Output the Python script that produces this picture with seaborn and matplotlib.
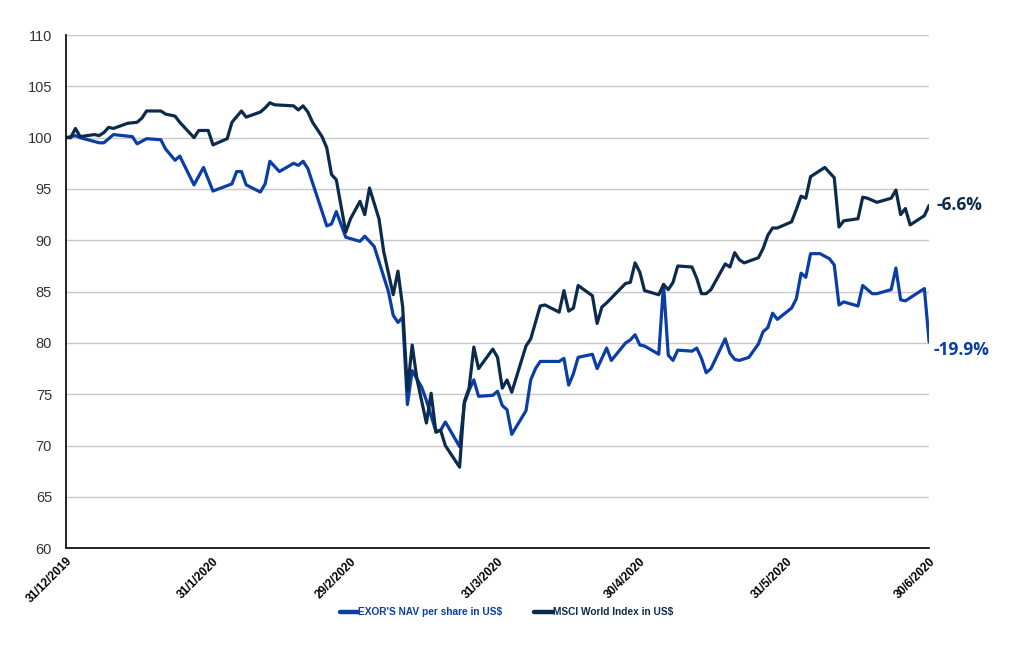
import pandas as pd
import matplotlib
matplotlib.use("Agg")
import matplotlib.pyplot as plt
import seaborn as sns

sns.set_theme(style="white")
plt.rcParams['font.family'] = ['Liberation Sans', 'DejaVu Sans']

# MSCI World Index in US$ (rebased to 100)
msci_dates = [
    "2019-12-31", "2020-01-01", "2020-01-02", "2020-01-03", "2020-01-06", "2020-01-07",
    "2020-01-08", "2020-01-09", "2020-01-10", "2020-01-13", "2020-01-15", "2020-01-16",
    "2020-01-17", "2020-01-20", "2020-01-21", "2020-01-23", "2020-01-24", "2020-01-27",
    "2020-01-28", "2020-01-30", "2020-01-31", "2020-02-03", "2020-02-04", "2020-02-06",
    "2020-02-07", "2020-02-10", "2020-02-11", "2020-02-12", "2020-02-13", "2020-02-17",
    "2020-02-18", "2020-02-19", "2020-02-20", "2020-02-21", "2020-02-23", "2020-02-24",
    "2020-02-25", "2020-02-26", "2020-02-28", "2020-02-29", "2020-03-02", "2020-03-03",
    "2020-03-04", "2020-03-06", "2020-03-07", "2020-03-09", "2020-03-10", "2020-03-11",
    "2020-03-12", "2020-03-13", "2020-03-14", "2020-03-16", "2020-03-17", "2020-03-18",
    "2020-03-19", "2020-03-20", "2020-03-23", "2020-03-24", "2020-03-25", "2020-03-26",
    "2020-03-27", "2020-03-30", "2020-03-31", "2020-04-01", "2020-04-02", "2020-04-03",
    "2020-04-06", "2020-04-07", "2020-04-09", "2020-04-10", "2020-04-13", "2020-04-14",
    "2020-04-15", "2020-04-16", "2020-04-17", "2020-04-20", "2020-04-21", "2020-04-22",
    "2020-04-23", "2020-04-27", "2020-04-28", "2020-04-29", "2020-04-30", "2020-05-01",
    "2020-05-04", "2020-05-05", "2020-05-06", "2020-05-07", "2020-05-08", "2020-05-11",
    "2020-05-12", "2020-05-13", "2020-05-14", "2020-05-15", "2020-05-18", "2020-05-19",
    "2020-05-20", "2020-05-21", "2020-05-22", "2020-05-25", "2020-05-26", "2020-05-27",
    "2020-05-28", "2020-05-29", "2020-06-01", "2020-06-02", "2020-06-03", "2020-06-04",
    "2020-06-05", "2020-06-08", "2020-06-10", "2020-06-11", "2020-06-12", "2020-06-15",
    "2020-06-16", "2020-06-17", "2020-06-19", "2020-06-22", "2020-06-23", "2020-06-24",
    "2020-06-25", "2020-06-26", "2020-06-29", "2020-06-30",
]
msci_values = [
    100.0, 100.0, 100.9, 100.1, 100.3, 100.2,
    100.5, 101.0, 100.9, 101.4, 101.5, 101.9,
    102.6, 102.6, 102.3, 102.1, 101.5, 100.0,
    100.7, 100.7, 99.3, 99.9, 101.5, 102.6,
    102.0, 102.5, 102.9, 103.4, 103.2, 103.1,
    102.7, 103.1, 102.5, 101.5, 100.1, 99.0,
    96.4, 95.9, 90.8, 92.1, 93.8, 92.5,
    95.1, 92.1, 88.9, 84.7, 87.0, 83.5,
    75.4, 79.8, 76.5, 72.2, 75.1, 71.3,
    71.5, 70.0, 67.9, 74.3, 75.6, 79.6,
    77.5, 79.4, 78.6, 75.6, 76.4, 75.2,
    79.7, 80.4, 83.6, 83.7, 83.0, 85.1,
    83.1, 83.4, 85.6, 84.6, 81.9, 83.5,
    83.9, 85.8, 85.9, 87.8, 86.9, 85.1,
    84.7, 85.7, 85.2, 85.9, 87.5, 87.4,
    86.3, 84.8, 84.8, 85.2, 87.7, 87.4,
    88.8, 88.1, 87.8, 88.3, 89.2, 90.5,
    91.2, 91.2, 91.8, 93.0, 94.3, 94.1,
    96.2, 97.1, 96.1, 91.3, 91.9, 92.1,
    94.2, 94.1, 93.7, 94.1, 94.9, 92.5,
    93.1, 91.5, 92.4, 93.4,
]

# EXOR's NAV per share in US$ (rebased to 100)
nav_dates = [
    "2019-12-31", "2020-01-02", "2020-01-03", "2020-01-07", "2020-01-08", "2020-01-10",
    "2020-01-14", "2020-01-15", "2020-01-17", "2020-01-20", "2020-01-21", "2020-01-23",
    "2020-01-24", "2020-01-27", "2020-01-29", "2020-01-31", "2020-02-04", "2020-02-05",
    "2020-02-06", "2020-02-07", "2020-02-10", "2020-02-11", "2020-02-12", "2020-02-14",
    "2020-02-17", "2020-02-18", "2020-02-19", "2020-02-20", "2020-02-24", "2020-02-25",
    "2020-02-26", "2020-02-28", "2020-03-02", "2020-03-03", "2020-03-05", "2020-03-08",
    "2020-03-09", "2020-03-10", "2020-03-11", "2020-03-12", "2020-03-13", "2020-03-15",
    "2020-03-16", "2020-03-18", "2020-03-19", "2020-03-20", "2020-03-23", "2020-03-24",
    "2020-03-25", "2020-03-26", "2020-03-27", "2020-03-30", "2020-03-31", "2020-04-01",
    "2020-04-02", "2020-04-03", "2020-04-06", "2020-04-07", "2020-04-08", "2020-04-09",
    "2020-04-13", "2020-04-14", "2020-04-15", "2020-04-16", "2020-04-17", "2020-04-20",
    "2020-04-21", "2020-04-23", "2020-04-24", "2020-04-27", "2020-04-28", "2020-04-29",
    "2020-04-30", "2020-05-01", "2020-05-04", "2020-05-05", "2020-05-06", "2020-05-07",
    "2020-05-08", "2020-05-11", "2020-05-12", "2020-05-13", "2020-05-14", "2020-05-15",
    "2020-05-18", "2020-05-19", "2020-05-20", "2020-05-21", "2020-05-23", "2020-05-25",
    "2020-05-26", "2020-05-27", "2020-05-28", "2020-05-29", "2020-06-01", "2020-06-02",
    "2020-06-03", "2020-06-04", "2020-06-05", "2020-06-07", "2020-06-09", "2020-06-10",
    "2020-06-11", "2020-06-12", "2020-06-15", "2020-06-16", "2020-06-18", "2020-06-19",
    "2020-06-22", "2020-06-23", "2020-06-24", "2020-06-25", "2020-06-29", "2020-06-30",
]
nav_values = [
    100.0, 100.2, 100.0, 99.5, 99.5, 100.3,
    100.1, 99.4, 99.9, 99.8, 98.9, 97.8,
    98.2, 95.4, 97.1, 94.8, 95.5, 96.7,
    96.7, 95.4, 94.7, 95.5, 97.7, 96.7,
    97.5, 97.3, 97.7, 97.0, 91.4, 91.6,
    92.8, 90.3, 89.9, 90.4, 89.4, 85.0,
    82.7, 82.0, 82.5, 74.0, 77.3, 75.7,
    74.4, 71.4, 71.5, 72.3, 69.9, 74.1,
    75.4, 76.4, 74.8, 74.9, 75.3, 73.9,
    73.5, 71.1, 73.4, 76.4, 77.5, 78.2,
    78.2, 78.5, 75.9, 77.0, 78.6, 78.9,
    77.5, 79.5, 78.3, 80.0, 80.3, 80.8,
    79.8, 79.7, 78.9, 85.7, 78.8, 78.3,
    79.3, 79.2, 79.5, 78.5, 77.1, 77.5,
    80.4, 79.0, 78.4, 78.3, 78.6, 79.9,
    81.1, 81.5, 82.9, 82.3, 83.4, 84.3,
    86.8, 86.4, 88.7, 88.7, 88.2, 87.6,
    83.7, 84.0, 83.6, 85.6, 84.8, 84.8,
    85.2, 87.3, 84.2, 84.1, 85.3, 80.1,
]

tick_dates = ["2019-12-31", "2020-01-31", "2020-02-29", "2020-03-31",
              "2020-04-30", "2020-05-31", "2020-06-30"]
nav_label = "EXOR'S NAV per share in US$"
msci_label = "MSCI World Index in US$"
nav_end_text = "-19.9%"
msci_end_text = "-6.6%"

nav_color = "#0a3da6"
msci_color = "#0c2b4c"

nav = pd.DataFrame({"date": pd.to_datetime(nav_dates), "value": nav_values})
msci = pd.DataFrame({"date": pd.to_datetime(msci_dates), "value": msci_values})

fig = plt.figure(figsize=(10.21, 6.45), dpi=100)
ax = fig.add_axes([0.0646, 0.150, 0.8454, 0.7957])

sns.lineplot(data=nav, x="date", y="value", ax=ax, color=nav_color,
             linewidth=2.3, label=nav_label)
sns.lineplot(data=msci, x="date", y="value", ax=ax, color=msci_color,
             linewidth=2.3, label=msci_label)

ax.set_ylim(60, 110)
ax.set_yticks(range(60, 111, 5))
ax.yaxis.grid(True, color="#c8c8c8", linewidth=1.0)
ax.set_axisbelow(True)

ticks = pd.to_datetime(tick_dates)
ax.set_xlim(ticks[0], ticks[-1])
ax.set_xticks(ticks)
ax.set_xticklabels([f"{d.day}/{d.month}/{d.year}" for d in ticks],
                   rotation=45, ha="right", rotation_mode="anchor",
                   fontsize=8.5, fontweight="bold", color="black")
ax.tick_params(axis="x", direction="out", length=4, width=1, color="black", pad=1)
ax.tick_params(axis="y", direction="out", length=4, width=1, color="black",
               labelsize=10.5, labelcolor="#333333", pad=6)
ax.set_xlabel("")
ax.set_ylabel("")

for side in ["top", "right"]:
    ax.spines[side].set_visible(False)
for side in ["left", "bottom"]:
    ax.spines[side].set_color("black")
    ax.spines[side].set_linewidth(1.2)

leg = ax.legend(loc="center", bbox_to_anchor=(0.51, -0.125), ncol=2, frameon=False,
                handlelength=1.8, handletextpad=0.0, columnspacing=3.2,
                prop={"size": 7.3, "weight": "bold"})
for line in leg.get_lines():
    line.set_linewidth(3.2)
for text, col in zip(leg.get_texts(), [nav_color, msci_color]):
    text.set_color(col)

ax.annotate(msci_end_text, xy=(msci["date"].iloc[-1], msci["value"].iloc[-1]),
            xytext=(5, 0), textcoords="offset points", va="center", ha="left",
            fontsize=12.5, fontweight="bold", color=msci_color,
            family=["Open Sans", "DejaVu Sans"], annotation_clip=False)
ax.annotate(nav_end_text, xy=(nav["date"].iloc[-1], nav["value"].iloc[-1]),
            xytext=(3, -6), textcoords="offset points", va="center", ha="left",
            fontsize=12.5, fontweight="bold", color=nav_color,
            family=["Open Sans", "DejaVu Sans"], annotation_clip=False)

fig.savefig("out.png", dpi=100)
plt.close(fig)
